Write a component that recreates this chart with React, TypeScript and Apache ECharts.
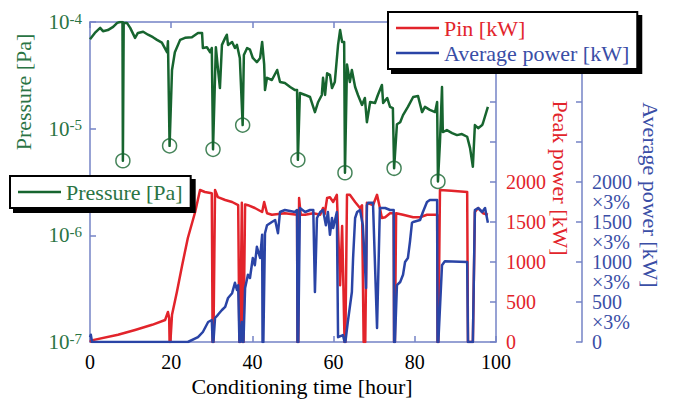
import React, { useEffect, useRef } from 'react';
import * as echarts from 'echarts';

const FONT = 'Liberation Serif';
const GREEN = '#17652f';
const GREEN_T = '#2a7444';
const RED = '#e2242b';
const BLUE = '#2a44a6';
const BLUE_T = '#3a4ea6';
const AX = '#7483c6';

// Pressure [Pa] vs conditioning time [hour]
const pressureData: [number, number][] = [
  [0, 6.9e-5], [1.2, 7.9e-5], [2.5, 8.8e-5], [3.2, 8.2e-5], [4.4, 8.4e-5], [5.7, 9.0e-5],
  [6.7, 9.8e-5], [7.4, 1.0e-4], [8.0, 1.0e-4], [8.1, 5.0e-6], [8.3, 9.8e-5], [9.1, 9.8e-5],
  [9.9, 8.8e-5], [11.1, 7.1e-5], [11.8, 7.9e-5], [13.1, 8.1e-5], [14.3, 7.6e-5], [15.5, 7.2e-5],
  [16.5, 6.8e-5], [17.7, 6.4e-5], [19.0, 5.2e-5], [19.2, 6.6e-5], [19.6, 6.9e-6], [20.2, 3.55e-5],
  [20.9, 5.2e-5], [22.2, 6.8e-5], [23.4, 7.1e-5], [25.1, 7.2e-5], [26.6, 7.9e-5], [27.6, 7.9e-5],
  [27.8, 5.7e-5], [28.8, 5.8e-5], [29.6, 5.2e-5], [30.0, 5.7e-5], [30.3, 6.4e-6], [31.0, 5.8e-5],
  [31.5, 3.7e-5], [32.0, 2.4e-5], [32.5, 6.1e-5], [33.3, 7.1e-5], [33.7, 7.6e-5], [34.0, 6.1e-5],
  [35.0, 6.5e-5], [35.7, 5.7e-5], [36.2, 6.1e-5], [36.9, 4.6e-5], [37.6, 1.08e-5], [37.9, 4.9e-5],
  [38.7, 5.7e-5], [39.4, 5.5e-5], [40.1, 4.6e-5], [41.1, 4.2e-5], [41.9, 4.6e-5], [42.4, 6.5e-5],
  [42.9, 4.0e-5], [43.1, 2.3e-5], [43.6, 3.0e-5], [44.8, 2.86e-5], [46.1, 3.55e-5], [46.8, 2.74e-5],
  [48.0, 2.68e-5], [49.3, 2.46e-5], [50.5, 2.3e-5], [51.0, 2.3e-5], [51.2, 5.1e-6], [51.7, 2.16e-5],
  [53.0, 2.07e-5], [54.2, 1.98e-5], [55.4, 1.43e-5], [56.2, 1.78e-5], [57.1, 2.07e-5], [57.4, 3.0e-5],
  [57.9, 2.07e-5], [58.4, 3.3e-5], [59.1, 3.2e-5], [59.6, 2.4e-5], [60.3, 2.74e-5], [61.1, 6.1e-5],
  [61.6, 8.4e-5], [62.1, 6.5e-5], [62.6, 6.5e-5], [62.8, 3.86e-6], [63.3, 4.0e-5], [64.0, 2.74e-5],
  [64.5, 3.55e-5], [65.3, 2.46e-5], [66.0, 2.07e-5], [67.0, 1.67e-5], [67.7, 1.94e-5], [68.2, 1.15e-5],
  [69.0, 1.78e-5], [70.2, 1.74e-5], [70.9, 2.07e-5], [71.9, 2.57e-5], [72.2, 1.74e-5], [73.2, 1.94e-5],
  [73.9, 1.6e-5], [74.6, 1.56e-5], [74.9, 4.25e-6], [75.6, 1.1e-5], [76.4, 1.15e-5], [77.1, 1.34e-5],
  [78.3, 1.6e-5], [79.6, 1.98e-5], [80.8, 2.02e-5], [81.8, 1.43e-5], [82.5, 1.6e-5], [83.7, 1.5e-5],
  [85.0, 1.43e-5], [85.5, 1.78e-5], [85.7, 3.2e-6], [86.2, 7.5e-6], [86.7, 2.46e-5], [86.9, 9.3e-6],
  [87.9, 9.7e-6], [89.2, 9.1e-6], [90.4, 8.7e-6], [91.6, 8.9e-6], [92.9, 8.4e-6], [93.6, 6.6e-6],
  [94.3, 4.4e-6], [94.8, 1.08e-5], [95.6, 1.01e-5], [96.6, 1.08e-5], [96.8, 1.13e-5], [98.0, 1.6e-5],
];

// Breakdown events (circled pressure minima)
const breakdownData: [number, number][] = [
  [8.1, 5.0e-6], [19.6, 6.9e-6], [30.3, 6.4e-6], [37.6, 1.08e-5],
  [51.2, 5.1e-6], [62.8, 3.86e-6], [74.9, 4.25e-6], [85.7, 3.2e-6],
];

// Pin [kW] (peak power)
const pinData: [number, number][] = [
  [0, 0], [0.4, 20], [6.9, 90], [11.1, 150], [15.3, 215], [18.5, 275], [19.2, 375], [19.5, 300],
  [19.6, 0], [19.8, 0], [20.2, 340], [21.4, 625], [22.7, 960], [24.1, 1300], [25.9, 1625],
  [27.1, 1900], [28.3, 1875], [30.0, 1860], [30.2, 0], [30.4, 0], [30.8, 1900], [31.5, 1810],
  [33.3, 1775], [35.0, 1750], [36.5, 1710], [36.8, 0], [37.0, 0], [37.4, 1740], [37.6, 0],
  [37.8, 0], [38.2, 1720], [38.9, 1710], [40.6, 1675], [42.4, 1625], [42.9, 1750], [43.6, 1610],
  [44.8, 1590], [48.0, 1610], [51.0, 1590], [51.1, 0], [51.3, 0], [51.5, 1800], [51.9, 1590],
  [53.0, 1590], [55.0, 1610], [56.7, 1590], [57.4, 1675], [57.8, 1600], [58.4, 1800], [59.1, 1810],
  [59.9, 1750], [60.8, 1840], [61.6, 710], [62.1, 1450], [62.7, 0], [62.9, 0], [63.3, 1840],
  [64.0, 1840], [65.3, 1750], [66.5, 1675], [67.0, 1710], [67.4, 0], [67.8, 0], [68.2, 1740],
  [69.7, 1710], [70.7, 1840], [71.4, 1675], [71.9, 1550], [72.7, 1560], [73.9, 1610], [74.8, 1610],
  [74.9, 0], [75.1, 0], [75.4, 1610], [77.1, 1590], [79.6, 1560], [81.3, 1560], [83.0, 1590],
  [85.5, 1590], [85.6, 0], [85.8, 0], [86.2, 1900], [89.0, 1890], [92.9, 1875], [93.1, 0],
  [94.3, 0], [94.8, 1625], [95.6, 1675], [96.8, 1610], [98.0, 1590],
];

// Average power, in units of the axis (value x 3% = kW)
const avgData: [number, number][] = [
  [0, 60], [0.2, 90], [0.5, 0], [24.1, 0], [26.6, 60], [27.8, 125], [29.1, 250], [30.0, 275],
  [30.2, 0], [30.4, 0], [30.8, 300], [31.5, 340], [32.5, 400], [33.3, 440], [34.0, 550],
  [35.0, 610], [35.7, 740], [36.2, 650], [36.5, 710], [36.8, 0], [37.0, 0], [37.4, 250],
  [37.6, 0], [37.8, 0], [38.2, 675], [38.9, 840], [39.4, 800], [40.1, 1050], [40.6, 960],
  [41.1, 1190], [41.9, 1050], [42.4, 1340], [42.5, 0], [42.7, 0], [43.1, 1360], [43.6, 1460],
  [44.8, 1500], [45.6, 1525], [46.3, 1360], [46.8, 1625], [48.0, 1650], [50.5, 1625], [51.0, 1650],
  [51.1, 0], [51.3, 0], [51.7, 1675], [53.0, 1625], [54.2, 1650], [55.0, 1650], [55.4, 625],
  [55.9, 1550], [56.7, 1625], [57.4, 1650], [58.1, 1460], [58.6, 1625], [59.1, 1340], [59.6, 1550],
  [59.9, 1425], [60.8, 1625], [61.1, 60], [62.3, 87], [62.7, 0], [62.9, 0], [63.5, 250],
  [64.5, 625], [64.8, 1050], [65.3, 1550], [65.8, 1625], [66.5, 1650], [67.2, 1460], [68.0, 675],
  [68.2, 1710], [68.5, 1740], [69.7, 1740], [70.7, 175], [71.4, 1675], [72.7, 1675], [73.9, 1650],
  [74.8, 1650], [74.9, 0], [75.1, 0], [75.6, 710], [76.4, 750], [77.1, 840], [77.6, 1000],
  [78.3, 1050], [78.8, 1250], [79.3, 1490], [79.6, 1500], [81.3, 1525], [82.0, 1625], [83.0, 1750],
  [83.7, 1775], [85.5, 1775], [85.6, 0], [85.8, 0], [86.7, 960], [87.4, 1010], [92.9, 1000],
  [93.1, 0], [94.3, 0], [94.8, 1650], [95.6, 1675], [96.6, 1625], [97.3, 1675], [98.0, 1490],
];

const xTicks = { min: 0, max: 100, interval: 20 };
const powerTicks = { min: 0, max: 4000, interval: 500, labelMax: 2000 };
// helper scale for the "×3%" second line under each average-power label
const pctLine = { min: 250, max: 4250, splitNumber: 8, text: '×3%' };

export default function App() {
  const ref = useRef<HTMLDivElement>(null);
  useEffect(() => {
    const chart = echarts.init(ref.current!, null, { renderer: 'svg' });
    const axisLine = { show: true, onZero: false, lineStyle: { color: AX, width: 1.5 } };
    const axisTick = { show: true, inside: true, length: 6, lineStyle: { color: AX, width: 1.5 } };
    const legendBox = {
      backgroundColor: '#fff',
      borderColor: '#000',
      borderWidth: 2,
      borderRadius: 0,
      shadowColor: '#000',
      shadowBlur: 0,
      shadowOffsetX: 4,
      shadowOffsetY: 4,
      selectedMode: false,
      icon: 'rect',
      itemWidth: 43,
      itemHeight: 2.5,
      textStyle: { fontSize: 22, fontFamily: FONT },
    };
    chart.setOption({
      animation: false,
      backgroundColor: '#fff',
      grid: { left: 90, right: 178, top: 22, bottom: 58, containLabel: false, outerBoundsMode: 'none' },
      xAxis: [
        {
          type: 'value', ...xTicks, position: 'bottom', axisLine, axisTick,
          splitLine: { show: false },
          axisLabel: { color: '#000', fontSize: 20, fontFamily: FONT, margin: 10 },
          name: 'Conditioning time [hour]', nameLocation: 'middle', nameGap: 33,
          nameMoveOverlap: false,
          nameTextStyle: { color: '#000', fontSize: 22, fontFamily: FONT, padding: [0, 0, 0, 18] },
        },
        {
          type: 'value', ...xTicks, position: 'top', axisLine, axisTick,
          splitLine: { show: false }, axisLabel: { show: false },
        },
      ],
      yAxis: [
        {
          type: 'log', logBase: 10, min: 1e-7, max: 1e-4, position: 'left',
          axisLine, axisTick, splitLine: { show: false }, minorTick: { show: false },
          axisLabel: {
            margin: 8,
            formatter: (v: number) => `{b|10}{s|${Math.round(Math.log10(v))}}`,
            rich: {
              b: { fontSize: 21, fontFamily: FONT, color: GREEN_T, lineHeight: 22 },
              s: { fontSize: 15, fontFamily: FONT, color: GREEN_T, verticalAlign: 'top', lineHeight: 16 },
            },
          },
        },
        {
          type: 'value', min: powerTicks.min, max: powerTicks.max, interval: powerTicks.interval,
          position: 'right', axisLine, axisTick, splitLine: { show: false },
          axisLabel: {
            margin: 10, color: RED, fontSize: 20, fontFamily: FONT,
            formatter: (v: number) => (v <= powerTicks.labelMax ? String(v) : ''),
          },
        },
        {
          type: 'value', min: powerTicks.min, max: powerTicks.max, interval: powerTicks.interval,
          position: 'right', offset: 86, axisLine, axisTick, splitLine: { show: false },
          axisLabel: {
            margin: 10, color: BLUE_T, fontSize: 20, fontFamily: FONT,
            formatter: (v: number) => (v <= powerTicks.labelMax ? String(v) : ''),
          },
        },
        {
          type: 'value', min: pctLine.min, max: pctLine.max, splitNumber: pctLine.splitNumber,
          position: 'right', offset: 86,
          axisLine: { show: false }, axisTick: { show: false }, splitLine: { show: false },
          axisLabel: {
            margin: 10, color: BLUE_T, fontSize: 20, fontFamily: FONT,
            showMinLabel: false, showMaxLabel: false,
            formatter: (v: number) =>
              v > 0 && v <= powerTicks.labelMax && v % powerTicks.interval === 0 ? pctLine.text : '',
          },
        },
      ],
      legend: [
        {
          ...legendBox,
          data: [{ name: 'Pressure [Pa]', textStyle: { color: GREEN_T } }],
          left: 10, top: 176, padding: [5, 8, 5, 8],
        },
        {
          ...legendBox,
          orient: 'vertical',
          data: [
            { name: 'Pin [kW]', textStyle: { color: RED } },
            { name: 'Average power [kW]', textStyle: { color: BLUE_T } },
          ],
          left: 388, top: 12, itemGap: 3, padding: [5, 8, 5, 8],
        },
      ],
      graphic: [
        {
          type: 'text', x: 23, y: 92, rotation: Math.PI / 2,
          style: {
            text: 'Pressure [Pa]', fill: GREEN_T, font: `22px ${FONT}`,
            align: 'center', verticalAlign: 'middle', textAlign: 'center', textVerticalAlign: 'middle',
          },
        },
        {
          type: 'text', x: 560, y: 178, rotation: -Math.PI / 2,
          style: {
            text: 'Peak power [kW]', fill: RED, font: `22px ${FONT}`,
            align: 'center', verticalAlign: 'middle', textAlign: 'center', textVerticalAlign: 'middle',
          },
        },
        {
          type: 'text', x: 650, y: 195, rotation: -Math.PI / 2,
          style: {
            text: 'Average power [kW]', fill: BLUE_T, font: `22px ${FONT}`,
            align: 'center', verticalAlign: 'middle', textAlign: 'center', textVerticalAlign: 'middle',
          },
        },
      ],
      series: [
        {
          name: 'Pressure [Pa]', type: 'line', xAxisIndex: 0, yAxisIndex: 0, data: pressureData,
          symbol: 'none', lineStyle: { color: GREEN, width: 2.5, join: 'round' },
          itemStyle: { color: GREEN }, z: 2,
        },
        {
          name: 'breakdown', type: 'scatter', xAxisIndex: 0, yAxisIndex: 0, data: breakdownData,
          symbol: 'circle', symbolSize: 14,
          itemStyle: { color: 'rgba(0,0,0,0)', borderColor: GREEN, borderWidth: 1.5 }, z: 5,
        },
        {
          name: 'Pin [kW]', type: 'line', xAxisIndex: 0, yAxisIndex: 1, data: pinData,
          symbol: 'none', lineStyle: { color: RED, width: 2.5, join: 'round' },
          itemStyle: { color: RED }, z: 3,
        },
        {
          name: 'Average power [kW]', type: 'line', xAxisIndex: 0, yAxisIndex: 2, data: avgData,
          symbol: 'none', lineStyle: { color: BLUE, width: 2.5, join: 'round' },
          itemStyle: { color: BLUE }, z: 4,
        },
      ],
    });
    return () => chart.dispose();
  }, []);
  return (
    <div
      ref={ref}
      style={{ position: 'fixed', left: 0, top: 0, width: 674, height: 400, background: '#fff' }}
    />
  );
}
